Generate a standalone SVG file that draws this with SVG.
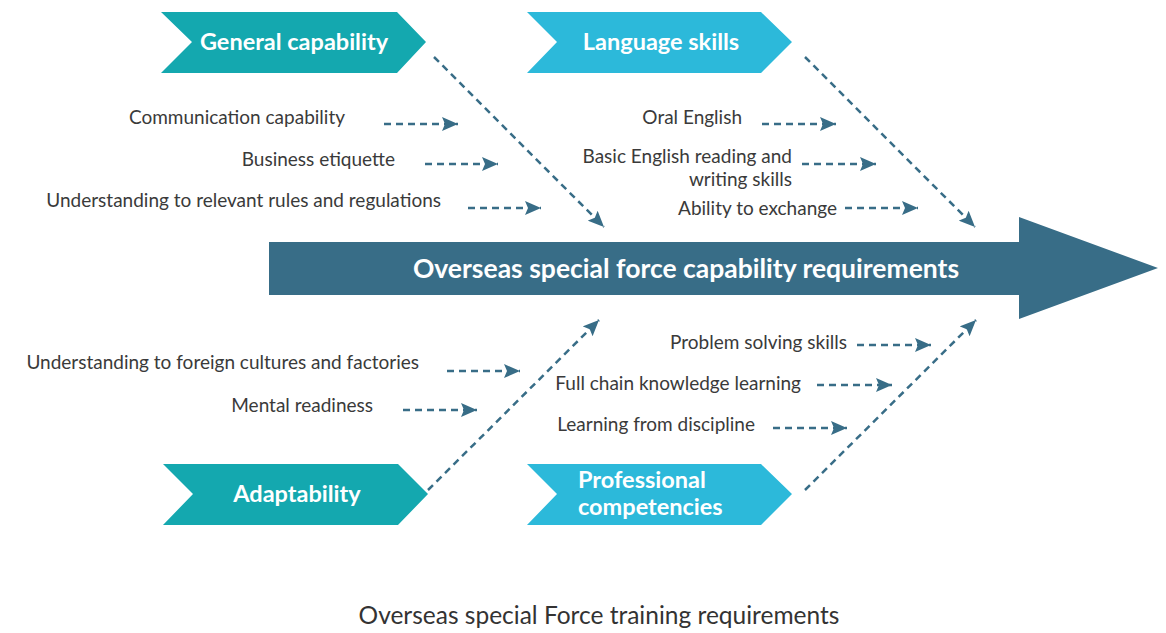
<svg xmlns="http://www.w3.org/2000/svg" width="1166" height="633" viewBox="0 0 1166 633">
<defs>
<style>
.lbl{font-family:Lato,"Liberation Sans",sans-serif;font-size:19px;fill:#3a3a3a;text-anchor:end}
.hd{font-family:Lato,"Liberation Sans",sans-serif;font-size:23.5px;font-weight:bold;fill:#ffffff;text-anchor:middle}
.dash{stroke:#386d87;stroke-width:2.5;stroke-dasharray:7 5;fill:none;marker-end:url(#ah)}
.teal{fill:#14a8af}
.cyan{fill:#2cb9da}
</style>
<marker id="ah" markerUnits="userSpaceOnUse" markerWidth="17" markerHeight="14" refX="16" refY="7" orient="auto">
<path d="M0,0 L16,7 L0,14 L3,7 z" fill="#386d87"/>
</marker>
</defs>
<rect width="1166" height="633" fill="#ffffff"/>

<g id="spine">
<polygon points="269,242 1019,242 1019,217 1158,268 1019,319 1019,295 269,295" fill="#386d87"/>
<text x="686" y="278" class="hd" style="font-size:26.5px">Overseas special force capability requirements</text>
</g>

<g id="general">
<polygon class="teal" points="161,12 397,12 426,42 397,73 161,73 192,42"/>
<text x="294" y="50" class="hd">General capability</text>
</g>
<g id="language">
<polygon class="cyan" points="527,12 761,12 792,42 761,73 527,73 557,42"/>
<text x="661" y="50" class="hd">Language skills</text>
</g>
<g id="adaptability">
<polygon class="teal" points="163,464 398,464 428,494 398,525 163,525 193,494"/>
<text x="297" y="502" class="hd">Adaptability</text>
</g>
<g id="professional">
<polygon class="cyan" points="527,464 761,464 792,494 761,525 527,525 557,494"/>
<text x="578" y="488" class="hd" style="text-anchor:start">Professional</text>
<text x="578" y="515" class="hd" style="text-anchor:start">competencies</text>
</g>

<g id="labels">
<text x="345" y="124" class="lbl">Communication capability</text>
<text x="395" y="166" class="lbl">Business etiquette</text>
<text x="441" y="207" class="lbl">Understanding to relevant rules and regulations</text>
<text x="742" y="124" class="lbl">Oral English</text>
<text x="792" y="163" class="lbl">Basic English reading and</text>
<text x="792" y="186" class="lbl">writing skills</text>
<text x="837" y="215" class="lbl">Ability to exchange</text>
<text x="419" y="369" class="lbl">Understanding to foreign cultures and factories</text>
<text x="373" y="412" class="lbl">Mental readiness</text>
<text x="847" y="349" class="lbl">Problem solving skills</text>
<text x="801" y="390" class="lbl">Full chain knowledge learning</text>
<text x="755" y="431" class="lbl">Learning from discipline</text>
</g>

<g id="connectors">
<line class="dash" x1="434" y1="57" x2="604" y2="227"/>
<line class="dash" x1="805" y1="57" x2="975" y2="227"/>
<line class="dash" x1="428" y1="490" x2="599" y2="320"/>
<line class="dash" x1="805" y1="490" x2="976" y2="320"/>
<line class="dash" x1="384" y1="124" x2="458" y2="124"/>
<line class="dash" x1="425" y1="164" x2="498" y2="164"/>
<line class="dash" x1="468" y1="208" x2="541" y2="208"/>
<line class="dash" x1="762" y1="124" x2="836" y2="124"/>
<line class="dash" x1="802" y1="164" x2="876" y2="164"/>
<line class="dash" x1="845" y1="208" x2="918" y2="208"/>
<line class="dash" x1="447" y1="371" x2="520" y2="371"/>
<line class="dash" x1="403" y1="410" x2="477" y2="410"/>
<line class="dash" x1="857" y1="345" x2="931" y2="345"/>
<line class="dash" x1="817" y1="385" x2="892" y2="385"/>
<line class="dash" x1="773" y1="428" x2="847" y2="428"/>
</g>

<text x="599" y="624" style="font-family:Lato,'Liberation Sans',sans-serif;font-size:24.5px;fill:#333333;text-anchor:middle">Overseas special Force training requirements</text>
</svg>
